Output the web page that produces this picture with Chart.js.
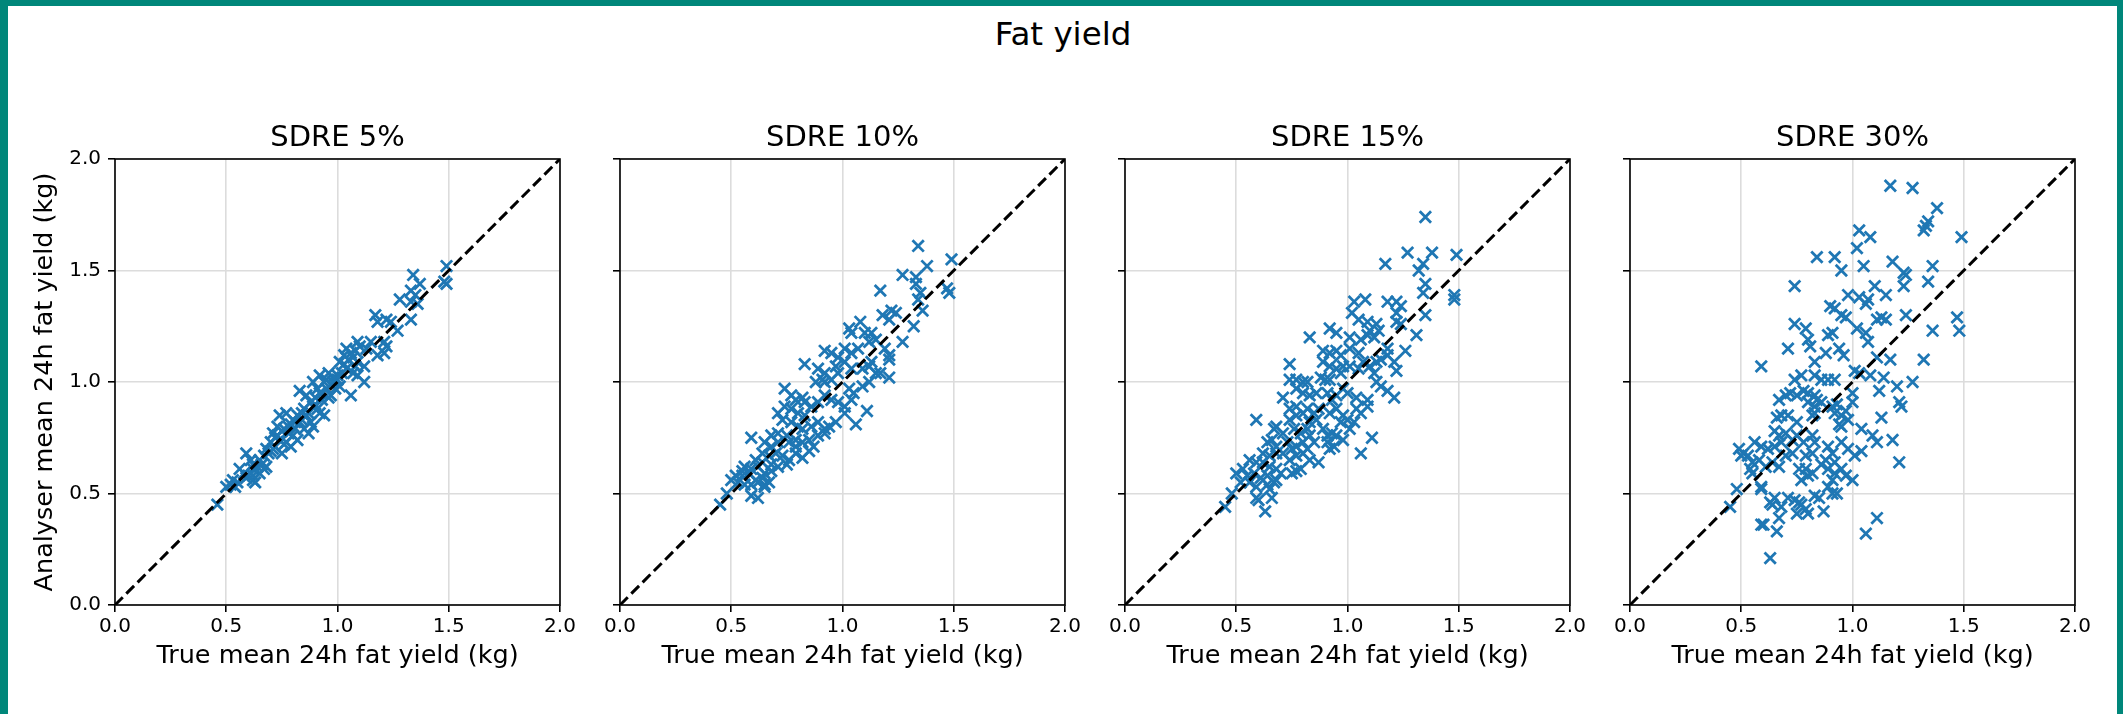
<!DOCTYPE html>
<html>
<head>
<meta charset="utf-8">
<script src="https://cdn.jsdelivr.net/npm/chart.js@4/dist/chart.umd.min.js"></script>
<style>
  html, body { margin: 0; padding: 0; background: #fff; }
  body { width: 2123px; height: 714px; position: relative; overflow: hidden; font-family: "DejaVu Sans", sans-serif; }
  .frame { position: absolute; background: #00877a; z-index: 5; }
  #suptitle { position: absolute; left: 1063px; top: 18px; transform: translateX(-50%); font-size: 32.5px; line-height: 32px; color: #000; white-space: nowrap; }
  canvas { position: absolute; top: 100px; }
</style>
</head>
<body>
<div class="frame" style="left:0;top:0;width:2123px;height:6px"></div>
<div class="frame" style="left:0;top:0;width:8px;height:714px"></div>
<div class="frame" style="left:2117px;top:0;width:6px;height:714px"></div>
<div id="suptitle">Fat yield</div>
<canvas id="p0" width="605" height="614" style="left:0px"></canvas>
<canvas id="p1" width="605" height="614" style="left:505px"></canvas>
<canvas id="p2" width="605" height="614" style="left:1010px"></canvas>
<canvas id="p3" width="605" height="614" style="left:1515px"></canvas>
<script>
const panelTitles = ['SDRE 5%', 'SDRE 10%', 'SDRE 15%', 'SDRE 30%'];
const tickValues = [0, 0.5, 1.0, 1.5, 2.0];
const identityLine = [0, 2];

// SDRE 5%
const true5 = [
  1.49,1.48,1.49,1.34,1.37,1.33,1.35,1.36,1.33,1.28,
  1.33,1.17,1.18,1.22,1.24,1.27,1.21,1.22,1.21,1.18,
  1.13,1.15,1.10,1.09,1.04,1.06,1.03,1.07,1.09,1.12,
  1.01,1.04,1.07,1.09,1.12,1.06,1.00,0.98,1.01,0.92,
  0.95,0.94,0.89,0.91,0.92,0.95,0.97,0.83,0.86,0.88,
  0.89,0.91,0.92,0.94,0.85,0.86,0.88,0.89,0.82,0.83,
  0.85,0.87,0.74,0.77,0.80,0.73,0.76,0.78,0.80,0.82,
  0.71,0.74,0.77,0.79,0.70,0.72,0.75,0.68,0.67,0.65,
  0.64,0.59,0.61,0.62,0.62,0.65,0.67,0.68,0.56,0.58,
  0.59,0.62,0.63,0.53,0.55,0.52,0.50,0.54,0.46,0.96,
  0.98,0.93,0.90,0.79,0.81,0.72,0.69,0.60,1.00,1.02,
  1.08,0.84,0.76,0.70,0.75,0.78,0.81,0.84,0.87,0.90,
  0.93,0.96,0.99,1.03,1.05,1.08,0.66,0.71,0.73,0.62
];
const analyser5 = [
  1.52,1.45,1.44,1.48,1.44,1.41,1.39,1.35,1.36,1.37,
  1.28,1.30,1.27,1.28,1.27,1.23,1.18,1.16,1.13,1.12,
  1.15,1.18,1.16,1.18,1.15,1.13,1.12,1.11,1.09,1.07,
  1.09,1.06,1.04,1.03,1.00,0.94,1.03,1.00,0.98,1.03,
  1.01,1.00,1.00,0.97,0.95,0.97,0.94,0.96,0.94,0.91,
  0.89,0.88,0.86,0.85,0.88,0.85,0.82,0.80,0.85,0.82,
  0.79,0.77,0.85,0.86,0.83,0.80,0.79,0.77,0.76,0.74,
  0.77,0.74,0.73,0.71,0.73,0.71,0.68,0.70,0.67,0.65,
  0.62,0.68,0.65,0.63,0.61,0.59,0.61,0.62,0.61,0.59,
  0.57,0.56,0.55,0.56,0.55,0.54,0.53,0.53,0.45,1.04,
  1.02,0.92,0.93,0.81,0.79,0.75,0.68,0.58,1.01,1.04,
  1.07,0.83,0.72,0.69,0.78,0.80,0.82,0.86,0.86,0.90,
  0.95,0.93,0.97,1.08,1.10,1.14,0.63,0.70,0.76,0.58
];

// SDRE 10%
const true10 = [
  1.34,1.49,1.38,1.27,1.33,1.33,1.35,1.34,1.47,1.48,
  1.17,1.36,1.22,1.24,1.21,1.18,1.32,1.03,1.04,1.08,
  1.10,1.13,1.15,1.12,1.27,0.92,0.95,0.98,1.01,1.04,
  1.07,1.19,1.21,1.21,0.83,0.89,0.92,0.91,0.97,0.98,
  1.01,1.04,1.09,1.12,1.13,1.15,1.17,1.21,0.88,0.92,
  0.95,1.03,1.05,1.09,1.12,0.74,0.77,0.79,0.82,0.83,
  0.86,0.89,0.92,0.95,0.98,1.01,1.04,1.11,1.06,1.01,
  0.74,0.77,0.80,0.83,0.71,0.73,0.77,0.80,0.82,0.86,
  0.89,0.92,0.94,0.97,0.89,0.92,0.68,0.71,0.75,0.76,
  0.79,0.82,0.85,0.87,0.59,0.65,0.68,0.71,0.64,0.67,
  0.70,0.73,0.76,0.79,0.82,0.61,0.64,0.68,0.71,0.75,
  0.56,0.59,0.62,0.65,0.68,0.52,0.55,0.58,0.61,0.64,
  0.67,0.50,0.53,0.56,0.59,0.62,0.65,0.59,0.62,0.65,
  0.48,0.45,0.79,0.85,0.55
];
const analyser10 = [
  1.61,1.55,1.52,1.48,1.47,1.44,1.40,1.37,1.42,1.40,
  1.41,1.32,1.32,1.31,1.28,1.30,1.25,1.24,1.22,1.27,
  1.22,1.22,1.19,1.18,1.18,1.14,1.13,1.11,1.15,1.13,
  1.15,1.15,1.12,1.10,1.08,1.06,1.04,1.01,1.07,1.04,
  1.09,1.06,1.06,1.07,1.09,1.04,1.04,1.02,1.00,1.00,
  1.01,0.97,0.95,0.98,1.00,0.97,0.94,0.92,0.93,0.91,
  0.89,0.91,0.94,0.92,0.91,0.89,0.92,0.87,0.81,0.86,
  0.89,0.88,0.86,0.85,0.86,0.83,0.82,0.80,0.79,0.80,
  0.82,0.79,0.80,0.82,0.76,0.77,0.76,0.77,0.76,0.73,
  0.74,0.73,0.74,0.71,0.75,0.73,0.71,0.73,0.68,0.67,
  0.68,0.67,0.65,0.68,0.66,0.65,0.64,0.63,0.62,0.63,
  0.62,0.61,0.62,0.59,0.60,0.58,0.58,0.59,0.56,0.57,
  0.55,0.56,0.55,0.54,0.54,0.55,0.54,0.49,0.48,0.53,
  0.50,0.45,0.71,0.69,0.60
];

// SDRE 15%
const true15 = [
  1.35,1.27,1.38,1.49,1.17,1.34,1.32,1.35,1.34,1.48,
  1.48,1.03,1.02,1.08,1.18,1.22,1.24,1.22,1.35,1.22,
  1.24,1.31,1.26,1.05,1.09,1.13,1.14,1.10,1.09,1.12,
  1.01,1.06,0.92,0.95,0.83,0.89,0.92,0.95,0.97,1.01,
  1.05,1.18,1.18,0.89,0.92,0.95,0.97,0.98,1.01,1.05,
  1.07,1.10,1.13,1.15,1.21,1.22,1.12,1.13,0.74,0.74,
  0.77,0.80,0.82,0.88,0.90,0.92,0.71,0.77,0.80,0.83,
  0.86,0.91,0.93,0.95,0.98,1.00,1.04,1.09,1.09,1.15,
  1.18,1.21,0.74,0.77,0.80,0.82,0.85,0.87,0.74,0.77,
  0.83,0.86,0.92,0.95,0.98,0.97,1.00,1.04,1.06,1.01,
  1.03,0.59,0.67,0.68,0.71,0.76,0.79,0.82,0.83,0.89,
  0.91,0.93,0.95,0.98,1.11,1.06,0.64,0.66,0.68,0.73,
  0.75,0.77,0.80,0.82,0.85,0.91,0.92,0.94,0.62,0.65,
  0.68,0.71,0.74,0.77,0.80,0.83,0.87,0.56,0.59,0.62,
  0.65,0.68,0.70,0.50,0.53,0.55,0.58,0.61,0.64,0.67,
  0.68,0.75,0.77,0.79,0.59,0.64,0.65,0.59,0.60,0.66,
  0.63,0.45,0.48,0.52,0.56
];
const analyser15 = [
  1.74,1.58,1.58,1.57,1.53,1.53,1.50,1.44,1.40,1.39,
  1.37,1.36,1.31,1.37,1.36,1.36,1.34,1.31,1.30,1.27,
  1.26,1.21,1.14,1.28,1.27,1.26,1.23,1.23,1.21,1.20,
  1.20,1.19,1.24,1.22,1.20,1.14,1.13,1.14,1.12,1.15,
  1.13,1.15,1.12,1.09,1.07,1.06,1.04,1.07,1.07,1.06,
  1.09,1.07,1.09,1.10,1.09,1.05,1.04,1.00,1.08,1.01,
  1.01,1.00,1.00,1.02,1.01,1.01,0.93,0.97,0.95,0.94,
  0.95,0.95,0.92,0.94,0.97,0.95,0.93,0.92,0.89,0.98,
  0.96,0.93,0.88,0.89,0.86,0.88,0.86,0.88,0.83,0.85,
  0.82,0.83,0.86,0.88,0.85,0.82,0.83,0.88,0.86,0.79,
  0.82,0.83,0.79,0.80,0.77,0.79,0.77,0.79,0.76,0.79,
  0.76,0.77,0.76,0.74,0.75,0.68,0.73,0.74,0.71,0.73,
  0.70,0.71,0.73,0.70,0.73,0.73,0.70,0.71,0.68,0.67,
  0.68,0.68,0.65,0.67,0.68,0.65,0.64,0.65,0.64,0.64,
  0.62,0.61,0.59,0.59,0.61,0.58,0.59,0.57,0.58,0.55,
  0.56,0.59,0.60,0.61,0.53,0.54,0.52,0.48,0.47,0.48,
  0.42,0.44,0.50,0.55,0.55
];

// SDRE 30%
const true30 = [
  1.17,1.27,1.38,1.34,1.33,1.32,1.03,1.08,1.49,1.02,
  0.84,0.92,0.95,1.05,1.18,1.23,1.24,1.36,1.34,1.23,
  0.74,1.10,1.15,0.98,1.03,1.07,1.06,0.90,0.92,0.95,
  0.97,1.11,1.13,1.15,1.24,1.47,1.48,1.36,0.74,0.79,
  0.89,0.91,1.02,1.06,1.07,0.80,0.81,0.71,0.88,0.94,
  0.96,0.83,1.11,1.17,1.32,0.59,1.01,1.03,1.08,1.14,
  1.27,1.20,1.12,1.21,1.22,0.74,0.77,0.83,0.86,0.89,
  0.92,0.72,0.75,0.78,0.80,0.83,0.84,0.67,0.70,0.80,
  0.83,0.86,0.91,0.93,1.00,1.00,0.66,0.68,0.71,0.75,
  0.82,0.83,0.92,0.95,0.97,0.98,0.95,0.94,1.13,1.04,
  1.09,1.11,1.18,1.21,0.65,0.67,0.70,0.73,0.75,0.78,
  0.82,0.83,0.56,0.59,0.62,0.65,0.68,0.51,0.53,0.55,
  0.58,0.61,0.64,0.67,0.70,0.73,0.79,0.82,0.89,0.91,
  0.95,0.98,1.01,1.04,0.88,0.92,0.76,0.79,0.80,0.77,
  0.82,0.86,0.89,0.92,0.95,0.91,0.97,0.49,0.50,0.54,
  0.55,0.59,0.59,0.63,0.65,0.64,0.68,0.71,0.74,0.76,
  0.77,0.79,0.75,0.80,0.83,0.85,0.89,0.91,0.93,0.87,
  0.67,1.00,0.59,0.60,0.66,1.06,1.11,0.63,0.45,0.48
];
const analyser30 = [
  1.88,1.87,1.78,1.72,1.70,1.68,1.68,1.65,1.65,1.60,
  1.56,1.56,1.50,1.52,1.54,1.49,1.48,1.52,1.45,1.43,
  1.43,1.43,1.39,1.39,1.38,1.37,1.35,1.34,1.33,1.30,
  1.29,1.28,1.29,1.28,1.30,1.29,1.23,1.23,1.26,1.24,
  1.21,1.22,1.24,1.22,1.18,1.19,1.16,1.15,1.13,1.15,
  1.12,1.09,1.11,1.10,1.10,1.07,1.05,1.04,1.03,1.02,
  1.00,0.98,0.96,0.91,0.89,1.01,1.03,1.03,1.01,1.01,
  1.01,0.95,0.94,0.96,0.95,0.94,0.92,0.92,0.94,0.91,
  0.89,0.91,0.89,0.90,0.95,0.91,0.84,0.85,0.85,0.82,
  0.85,0.86,0.86,0.85,0.87,0.83,0.80,0.81,0.84,0.79,
  0.76,0.73,0.74,0.64,0.78,0.76,0.77,0.74,0.76,0.73,
  0.76,0.73,0.73,0.71,0.70,0.71,0.73,0.68,0.67,0.64,
  0.65,0.62,0.64,0.62,0.67,0.68,0.67,0.68,0.71,0.68,
  0.73,0.70,0.67,0.69,0.65,0.64,0.61,0.61,0.58,0.56,
  0.59,0.63,0.61,0.59,0.61,0.56,0.58,0.70,0.67,0.61,
  0.59,0.53,0.52,0.46,0.48,0.45,0.44,0.48,0.47,0.46,
  0.45,0.43,0.41,0.41,0.49,0.48,0.53,0.50,0.50,0.42,
  0.39,0.56,0.36,0.36,0.33,0.32,0.39,0.21,0.44,0.52
];

const trueSeries = [true5, true10, true15, true30];
const analyserSeries = [analyser5, analyser10, analyser15, analyser30];

const FONT = 'DejaVu Sans';
const BLUE = '#1f77b4';

// matplotlib style box around the plot area
const frameBox = {
    id: 'frameBox',
    afterDraw(chart) {
        const a = chart.chartArea;
        const ctx = chart.ctx;
        ctx.save();
        ctx.strokeStyle = '#000';
        ctx.lineWidth = 1.6;
        ctx.strokeRect(a.left, a.top, a.right - a.left, a.bottom - a.top);
        ctx.restore();
    }
};

function makePanel(i) {
    const ctx = document.getElementById('p' + i).getContext('2d');
    const xs = trueSeries[i];
    const ys = analyserSeries[i];
    const points = xs.map((x, k) => ({ x: x, y: ys[k] }));
    const first = i === 0;

    return new Chart(ctx, {
        type: 'scatter',
        data: {
            datasets: [
                {
                    data: identityLine.map(v => ({ x: v, y: v })),
                    showLine: true,
                    borderColor: '#000',
                    borderWidth: 3,
                    borderDash: [11, 5],
                    pointRadius: 0,
                    order: 0
                },
                {
                    data: points,
                    pointStyle: 'crossRot',
                    pointRadius: 8,
                    pointHoverRadius: 8,
                    borderColor: BLUE,
                    backgroundColor: BLUE,
                    pointBorderWidth: 2.8,
                    order: 1
                }
            ]
        },
        options: {
            responsive: false,
            animation: false,
            devicePixelRatio: 1,
            events: [],
            layout: { padding: { left: 0, right: 45, top: 0, bottom: 0 } },
            plugins: {
                legend: { display: false },
                tooltip: { enabled: false },
                title: {
                    display: true,
                    text: panelTitles[i],
                    fullSize: false,
                    color: '#000',
                    font: { family: FONT, size: 29, weight: 'normal' },
                    padding: { top: 20.6, bottom: 3.6 }
                }
            },
            scales: {
                x: {
                    type: 'linear',
                    min: 0, max: 2,
                    afterBuildTicks: s => { s.ticks = tickValues.map(v => ({ value: v })); },
                    afterFit: s => { s.height = 109; },
                    border: { display: false },
                    grid: { color: '#dcdcdc', lineWidth: 1.6, tickColor: '#000', tickWidth: 1.6, tickLength: 7 },
                    ticks: {
                        color: '#000', padding: 3,
                        font: { family: FONT, size: 20 },
                        callback: v => Number(v).toFixed(1)
                    },
                    title: {
                        display: true,
                        text: 'True mean 24h fat yield (kg)',
                        color: '#000',
                        font: { family: FONT, size: 25.5 },
                        padding: { top: 0, bottom: 42 }
                    }
                },
                y: {
                    type: 'linear',
                    min: 0, max: 2,
                    afterBuildTicks: s => { s.ticks = tickValues.map(v => ({ value: v })); },
                    afterFit: s => { s.width = 115; },
                    border: { display: false },
                    grid: { color: '#dcdcdc', lineWidth: 1.6, tickColor: '#000', tickWidth: 1.6, tickLength: 7 },
                    ticks: {
                        display: first,
                        color: '#000', padding: 7,
                        font: { family: FONT, size: 20 },
                        callback: v => Number(v).toFixed(1)
                    },
                    title: {
                        display: first,
                        text: 'Analyser mean 24h fat yield (kg)',
                        color: '#000',
                        font: { family: FONT, size: 25.5 },
                        padding: { top: 30, bottom: 0 }
                    }
                }
            }
        },
        plugins: [frameBox]
    });
}

const charts = [0, 1, 2, 3].map(makePanel);
</script>
</body>
</html>
